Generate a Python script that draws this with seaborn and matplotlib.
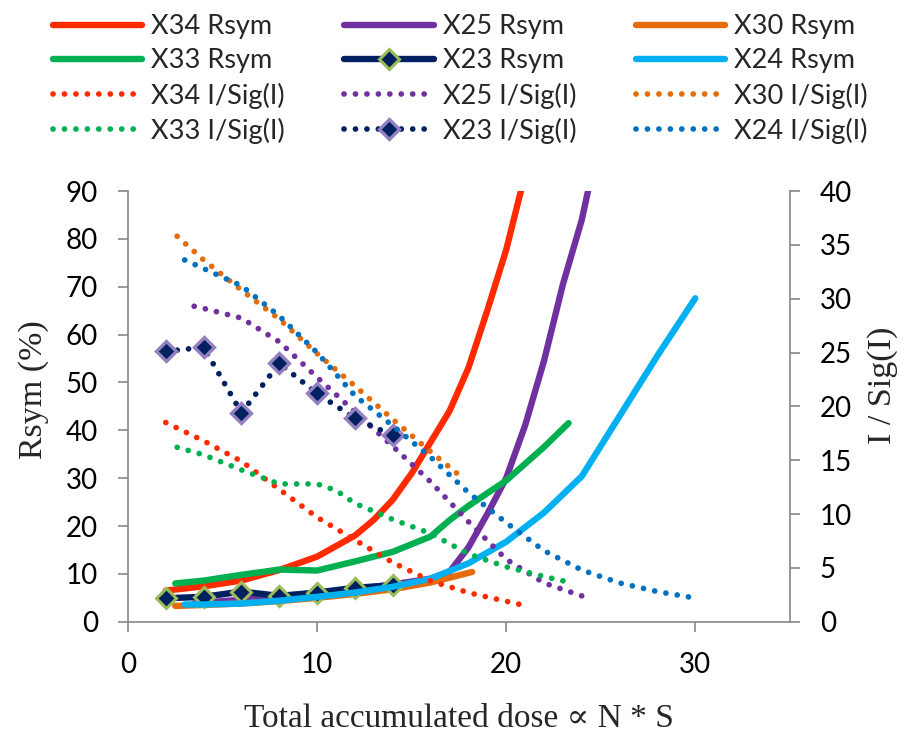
import matplotlib
matplotlib.use("Agg")
import matplotlib.pyplot as plt
import seaborn as sns
import pandas as pd

# ---------------- data ----------------
x34_rsym_x = [2, 4, 6, 8, 10, 12, 13, 14, 15, 16, 17, 18, 19, 20, 21]
x34_rsym_y = [6.5, 7.4, 8.6, 10.8, 13.6, 18.0, 21.3, 25.5, 31.0, 37.5, 44.0, 53.0, 65.0, 77.7, 93.5]

x25_rsym_x = [3.5, 4, 6, 8, 10, 12, 14, 16, 17, 18, 19, 20, 21, 22, 23, 24, 24.6]
x25_rsym_y = [3.8, 4.0, 4.6, 5.3, 6.0, 6.8, 7.8, 9.0, 10.4, 15.5, 22.5, 30.0, 41.0, 54.5, 70.5, 84.0, 95.0]

x30_rsym_x = [2.5, 4, 6, 8, 10, 12, 14, 16, 18.2]
x30_rsym_y = [3.3, 3.5, 3.8, 4.3, 5.0, 5.8, 6.8, 8.2, 10.4]

x33_rsym_x = [2.5, 4, 6, 8, 10, 12, 14, 16, 17, 18, 20, 22, 23.3]
x33_rsym_y = [8.0, 8.6, 9.8, 10.9, 10.7, 12.6, 14.6, 17.8, 21.2, 24.2, 29.5, 36.5, 41.5]

x23_rsym_x = [2, 4, 6, 8, 10, 12, 14]
x23_rsym_y = [4.9, 5.2, 6.3, 5.4, 6.1, 7.1, 7.6]

x24_rsym_x = [3, 4, 6, 8, 10, 12, 14, 16, 18, 20, 22, 24, 26, 28, 30]
x24_rsym_y = [3.6, 3.6, 3.8, 4.4, 5.2, 6.1, 7.3, 9.0, 12.2, 16.7, 22.8, 30.4, 43.0, 55.6, 67.6]

x34_isig_x = [2, 4, 6, 8, 10, 12, 14, 16, 18, 20, 21]
x34_isig_y = [18.5, 16.8, 14.9, 12.3, 9.7, 7.6, 5.5, 3.8, 2.7, 1.9, 1.5]

x25_isig_x = [3.5, 4, 6, 8, 10, 12, 14, 16, 18, 20, 22, 24]
x25_isig_y = [29.3, 29.1, 28.2, 26.0, 22.7, 19.5, 16.3, 13.0, 9.3, 5.8, 3.6, 2.4]

x30_isig_x = [2.6, 4, 6, 8, 10, 12, 14, 16, 17.8]
x30_isig_y = [35.8, 33.6, 30.8, 28.1, 24.9, 21.9, 18.8, 15.8, 13.2]

x33_isig_x = [2.6, 4, 6, 8, 10, 11, 12, 14, 16, 18, 20, 22, 23]
x33_isig_y = [16.2, 15.5, 14.1, 12.8, 12.8, 12.2, 11.0, 9.5, 8.2, 6.3, 5.1, 4.2, 3.8]

x23_isig_x = [2, 4, 6, 8, 10, 12, 14]
x23_isig_y = [25.1, 25.5, 19.4, 24.0, 21.2, 18.9, 17.3]

x24_isig_x = [3, 4, 6, 8, 10, 12, 14, 16, 18, 20, 22, 24, 26, 28, 30]
x24_isig_y = [33.6, 32.8, 31.2, 28.4, 25.0, 21.0, 18.2, 15.3, 12.0, 9.2, 6.6, 4.8, 3.6, 2.8, 2.2]

x_ticks = [0, 10, 20, 30]
y_left_ticks = [0, 10, 20, 30, 40, 50, 60, 70, 80, 90]
y_right_ticks = [0, 5, 10, 15, 20, 25, 30, 35, 40]

# ---------------- styling ----------------
sns.set_theme(style="white")
plt.rcParams["font.family"] = ["Lato", "DejaVu Sans"]

AXC = "#868686"
SERIF = ["Liberation Serif", "DejaVu Serif"]

fig = plt.figure(figsize=(9.07, 7.37), dpi=100)
ax = fig.add_axes([0.1411, 0.1564, 0.8708 - 0.1411, 0.7408 - 0.1564])
ax2 = ax.twinx()

SOLID_LW = 4.6
DOT_LW = 4.1
dot_style = (0, (0.01, 2.0))


def solid(axis, xs, ys, color, label, **kw):
    sns.lineplot(x=xs, y=ys, ax=axis, color=color, lw=SOLID_LW,
                 solid_capstyle="round", solid_joinstyle="round",
                 legend=False, **kw)
    ln = axis.lines[-1]
    ln.set_label(label)
    return ln


def dotted(axis, xs, ys, color, label, **kw):
    sns.lineplot(x=xs, y=ys, ax=axis, color=color, lw=DOT_LW,
                 legend=False, **kw)
    ln = axis.lines[-1]
    ln.set_linestyle(dot_style)
    ln.set_dash_capstyle("round")
    ln.set_label(label)
    return ln


h = {}
h["X34 Rsym"] = solid(ax, x34_rsym_x, x34_rsym_y, "#FF2A00", "X34 Rsym")
h["X25 Rsym"] = solid(ax, x25_rsym_x, x25_rsym_y, "#7030A0", "X25 Rsym")
h["X30 Rsym"] = solid(ax, x30_rsym_x, x30_rsym_y, "#E46C0A", "X30 Rsym")
h["X33 Rsym"] = solid(ax, x33_rsym_x, x33_rsym_y, "#00B050", "X33 Rsym")
h["X23 Rsym"] = solid(ax, x23_rsym_x, x23_rsym_y, "#002060", "X23 Rsym",
                      marker="D", markersize=10, markerfacecolor="#002060",
                      markeredgecolor="#9BBB59", markeredgewidth=2.2)
h["X24 Rsym"] = solid(ax, x24_rsym_x, x24_rsym_y, "#00B0F0", "X24 Rsym")

h["X34 I/Sig(I)"] = dotted(ax2, x34_isig_x, x34_isig_y, "#FF2A00", "X34 I/Sig(I)")
h["X25 I/Sig(I)"] = dotted(ax2, x25_isig_x, x25_isig_y, "#7030A0", "X25 I/Sig(I)")
h["X30 I/Sig(I)"] = dotted(ax2, x30_isig_x, x30_isig_y, "#E46C0A", "X30 I/Sig(I)")
h["X33 I/Sig(I)"] = dotted(ax2, x33_isig_x, x33_isig_y, "#00B050", "X33 I/Sig(I)")
h["X23 I/Sig(I)"] = dotted(ax2, x23_isig_x, x23_isig_y, "#002060", "X23 I/Sig(I)",
                           marker="D", markersize=10, markerfacecolor="#002060",
                           markeredgecolor="#9480C0", markeredgewidth=2.4)
h["X24 I/Sig(I)"] = dotted(ax2, x24_isig_x, x24_isig_y, "#0070C0", "X24 I/Sig(I)")

# ---------------- axes ----------------
ax.set_xlim(0, 35)
ax.set_ylim(0, 90)
ax2.set_ylim(0, 40)
ax.set_xticks(x_ticks)
ax.set_yticks(y_left_ticks)
ax2.set_yticks(y_right_ticks)

for a in (ax, ax2):
    for s in a.spines.values():
        s.set_visible(False)
ax.spines["left"].set_visible(True)
ax.spines["bottom"].set_visible(True)
ax2.spines["right"].set_visible(True)
for s in (ax.spines["left"], ax.spines["bottom"], ax2.spines["right"]):
    s.set_color(AXC)
    s.set_linewidth(1.2)

ax.grid(False)
ax2.grid(False)
ax.tick_params(axis="both", direction="out", length=7.5, width=1.2, color=AXC,
               labelsize=20, labelcolor="black", pad=14,
               left=True, bottom=True)
ax2.tick_params(axis="y", direction="out", length=7.5, width=1.2, color=AXC,
                labelsize=20, labelcolor="black", pad=14, right=True)

ax.set_xlabel("Total accumulated dose \u221d N * S", family=SERIF, fontsize=24,
              labelpad=19)
ax.set_ylabel("Rsym (%)", family=SERIF, fontsize=24.5)
ax2.set_ylabel("I / Sig(I)", family=SERIF, fontsize=24.5)
ax.yaxis.set_label_coords(-0.12, 0.54)
ax2.yaxis.set_label_coords(1.117, 0.55)

# ---------------- legend ----------------
order = ["X34 Rsym", "X33 Rsym", "X34 I/Sig(I)", "X33 I/Sig(I)",
         "X25 Rsym", "X23 Rsym", "X25 I/Sig(I)", "X23 I/Sig(I)",
         "X30 Rsym", "X24 Rsym", "X30 I/Sig(I)", "X24 I/Sig(I)"]
leg = fig.legend([h[k] for k in order], order, loc="upper left",
                 bbox_to_anchor=(0.058, 0.981), ncol=3, frameon=False,
                 fontsize=19.5, handlelength=3.3, handletextpad=0.33,
                 columnspacing=2.2, labelspacing=0.34, borderpad=0,
                 borderaxespad=0)

fig.savefig("out.png", dpi=100)
